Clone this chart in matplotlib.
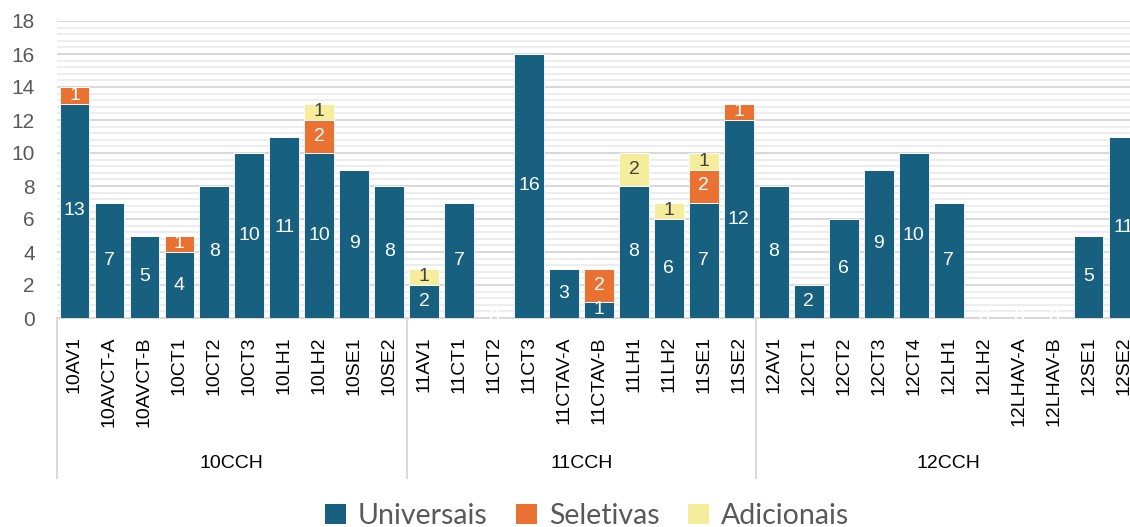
import matplotlib
matplotlib.use("Agg")
import matplotlib.pyplot as plt
from matplotlib.patches import Patch
from matplotlib.lines import Line2D
import numpy as np

categories = ["10AV1", "10AVCT-A", "10AVCT-B", "10CT1", "10CT2", "10CT3", "10LH1", "10LH2", "10SE1", "10SE2",
              "11AV1", "11CT1", "11CT2", "11CT3", "11CTAV-A", "11CTAV-B", "11LH1", "11LH2", "11SE1", "11SE2",
              "12AV1", "12CT1", "12CT2", "12CT3", "12CT4", "12LH1", "12LH2", "12LHAV-A", "12LHAV-B", "12SE1", "12SE2"]
groups = ["10CCH", "11CCH", "12CCH"]
group_sizes = [10, 10, 11]

universais = [13, 7, 5, 4, 8, 10, 11, 10, 9, 8,
              2, 7, 0, 16, 3, 1, 8, 6, 7, 12,
              8, 2, 6, 9, 10, 7, 0, 0, 0, 5, 11]
seletivas = [1, 0, 0, 1, 0, 0, 0, 2, 0, 0,
             0, 0, 0, 0, 0, 2, 0, 0, 2, 1,
             0, 0, 0, 0, 0, 0, 0, 0, 0, 0, 0]
adicionais = [0, 0, 0, 0, 0, 0, 0, 1, 0, 0,
              1, 0, 0, 0, 0, 0, 2, 1, 1, 0,
              0, 0, 0, 0, 0, 0, 0, 0, 0, 0, 0]

series_names = ["Universais", "Seletivas", "Adicionais"]
colors = ["#17607F", "#E97132", "#F5EC9C"]
label_colors = ["white", "white", "#404040"]

W, H = 1130, 527
fig = plt.figure(figsize=(W / 100, H / 100), dpi=100)
left_px, right_px, top_px, bot_px = 57, 1141, 21, 318
ax = fig.add_axes([left_px / W, (H - bot_px) / H, (right_px - left_px) / W, (bot_px - top_px) / H])

x = np.arange(len(categories))
u = np.array(universais, float)
s = np.array(seletivas, float)
a = np.array(adicionais, float)
bw = 0.85
bottoms = [np.zeros_like(u), u, u + s]
vals = [u, s, a]
for i in range(3):
    ax.bar(x, vals[i], bw, bottom=bottoms[i], color=colors[i], edgecolor="white", linewidth=0.6, zorder=3)
    for xi, v, b in zip(x, vals[i], bottoms[i]):
        if v > 0 or i == 0:
            ax.text(xi, b + v / 2, f"{int(v)}", ha="center", va="center", color=label_colors[i],
                    fontsize=14, family="Liberation Sans", zorder=5, clip_on=False)

ax.set_xlim(-0.5, len(categories) - 0.5)
ax.set_ylim(0, 18)
ax.set_yticks(np.arange(0, 19, 2))
ax.set_yticks(np.arange(0, 18.01, 0.4), minor=True)
ax.grid(axis="y", which="major", color="#d9d9d9", linewidth=1.5, zorder=0)
ax.grid(axis="y", which="minor", color="#ededed", linewidth=1.5, zorder=0)
ax.tick_params(axis="y", which="both", length=0, pad=16, labelsize=15, labelcolor="#595959")
for lab in ax.get_yticklabels():
    lab.set_family("Liberation Sans")

ax.set_xticks(x)
ax.set_xticklabels(categories, rotation=90, fontsize=14, family="Liberation Sans", color="black", va="top")
ax.tick_params(axis="x", length=0, pad=13)

for sp in ["top", "right", "left"]:
    ax.spines[sp].set_visible(False)
ax.spines["bottom"].set_color("#d9d9d9")
ax.spines["bottom"].set_linewidth(1.5)

# group separators and labels
trans = ax.get_xaxis_transform()
yline_bottom = (bot_px - 478) / (bot_px - top_px)
ylab = (bot_px - 463) / (bot_px - top_px)
start = 0
bounds = [-0.5]
for g, n in zip(groups, group_sizes):
    center = start + (n - 1) / 2
    ax.text(center, ylab, g, transform=trans, ha="center", va="center", fontsize=14,
            family="Liberation Sans", color="black")
    start += n
    bounds.append(start - 0.5)
for bnd in bounds:
    ax.add_line(Line2D([bnd, bnd], [0, yline_bottom], transform=trans, color="#d9d9d9",
                       linewidth=1.5, clip_on=False))

handles = [Patch(facecolor=c, edgecolor="none") for c in colors]
fig.legend(handles, series_names, loc="center", bbox_to_anchor=(587 / W, (H - 516) / H), ncol=3,
           frameon=False, prop={"family": "Lato", "size": 20.5}, labelcolor="#595959",
           handlelength=0.75, handleheight=0.75, handletextpad=0.4, columnspacing=1.0)

fig.savefig("out.png", dpi=100)
